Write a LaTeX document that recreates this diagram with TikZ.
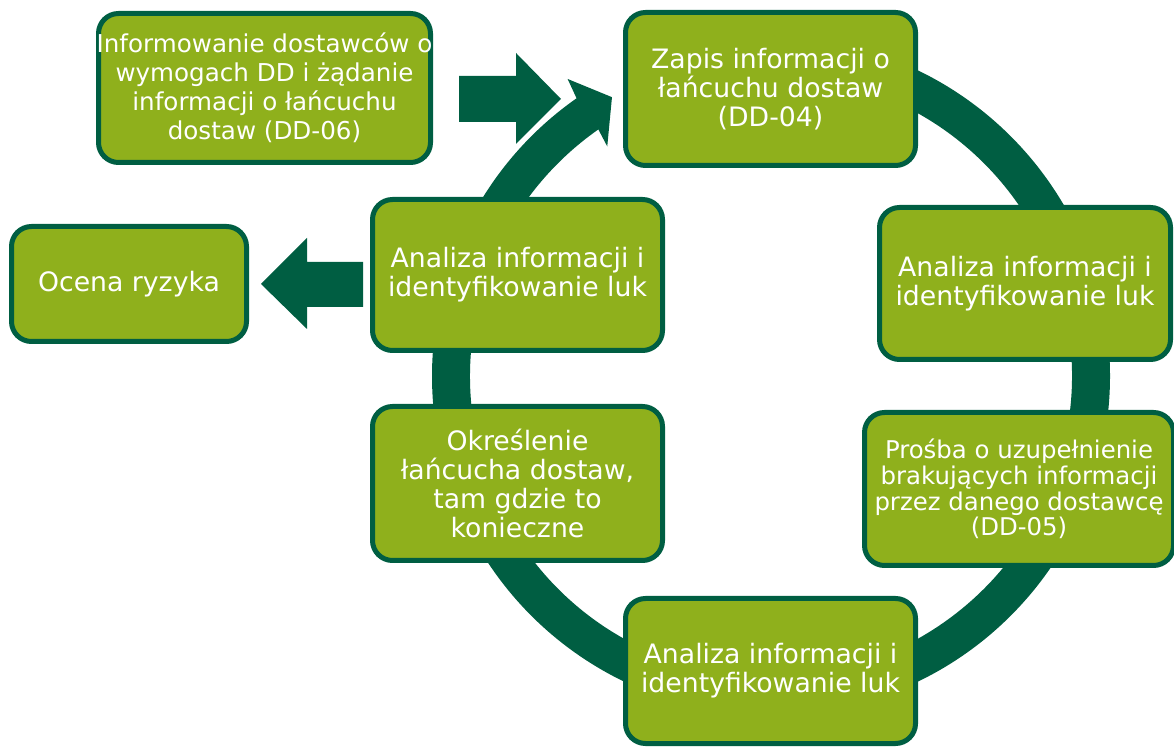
\documentclass[tikz,border=0pt]{standalone}
\usepackage{fontspec}
\setmainfont{DejaVu Sans}
\usetikzlibrary{calc}
\definecolor{lgreen}{HTML}{8FB01C}
\definecolor{dgreen}{HTML}{005E42}
\tikzset{
  box/.style={draw=dgreen, fill=lgreen, line width=5pt, rounded corners=20pt,
    text=white, align=center, inner sep=0pt, outer sep=0pt,
    font=\fontsize{26.7}{29.2}\selectfont},
  tlbox/.style={box, inner xsep=-6pt, font=\fontsize{24.6}{29}\selectfont},
  smallbox/.style={box, font=\fontsize{24.4}{25.7}\selectfont},
  blockarrow/.style={fill=dgreen, draw=none},
}
\begin{document}
\begin{tikzpicture}[x=1pt,y=1pt]
\useasboundingbox (0,0) rectangle (1174,749);
\coordinate (C) at (771,373);
% ring with arrowhead
\fill[dgreen] ($(C)+(90:339)$) arc[start angle=90, end angle=-235, radius=339]
  -- ($(C)+(124.4:360)$) -- ($(C)+(119.7:321)$) -- ($(C)+(125.5:282)$)
  -- ($(C)+(125:301)$) arc[start angle=-235, end angle=90, radius=301] -- cycle;
% boxes
\node[tlbox, minimum width=332pt, minimum height=149pt] (tl) at (264.5,661) {Informowanie dostawców o\\wymogach DD i żądanie\\informacji o łańcuchu\\dostaw (DD-06)};
\node[box, minimum width=290pt, minimum height=153pt] (zapis) at (770.5,660) {Zapis informacji o\\łańcuchu dostaw\\(DD-04)};
\node[box, minimum width=235pt, minimum height=115pt] (ocena) at (129,465) {Ocena ryzyka};
\node[box, minimum width=290pt, minimum height=151pt] (la) at (517.5,474) {Analiza informacji i\\identyfikowanie luk};
\node[box, minimum width=290pt, minimum height=154pt] (ok) at (517.5,265.5) {Określenie\\łańcucha dostaw,\\tam gdzie to\\konieczne};
\node[box, minimum width=291pt, minimum height=152pt] (ra) at (1025,465.5) {Analiza informacji i\\identyfikowanie luk};
\node[smallbox, minimum width=309pt, minimum height=153pt] (pr) at (1019,260) {Prośba o uzupełnienie\\brakujących informacji\\przez danego dostawcę\\(DD-05)};
\node[box, minimum width=290pt, minimum height=145pt] (ba) at (770.5,78) {Analiza informacji i\\identyfikowanie luk};
% straight block arrows
\fill[blockarrow] (459,673) -- (516,673) -- (516,696) -- (561,650) -- (516,605) -- (516,627) -- (459,627) -- cycle;
\fill[blockarrow] (363,487) -- (307,487) -- (307,511) -- (261,465) -- (307,420) -- (307,442) -- (363,442) -- cycle;
\end{tikzpicture}
\end{document}
